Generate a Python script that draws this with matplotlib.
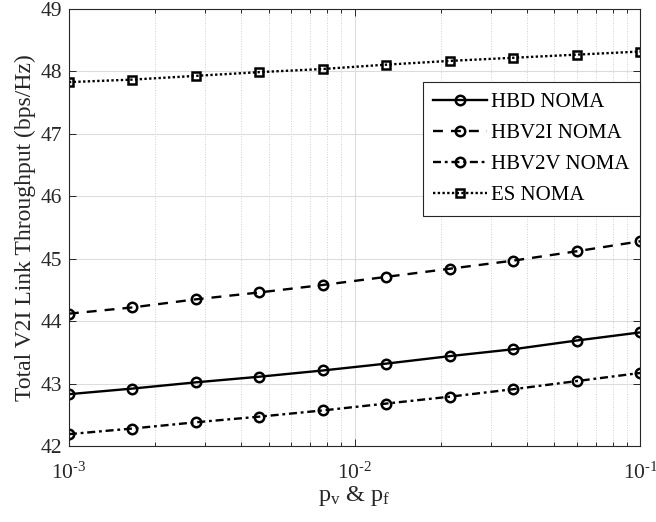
import numpy as np
import matplotlib
matplotlib.use('Agg')
import matplotlib.pyplot as plt
from matplotlib.ticker import FixedLocator, FixedFormatter

plt.rcParams['font.family'] = ['Liberation Serif', 'DejaVu Serif']
plt.rcParams['mathtext.fontset'] = 'stix'

# probability of vehicle / fault (log-spaced sweep)
p = [1e-3, 1.668e-3, 2.783e-3, 4.642e-3, 7.743e-3,
     1.292e-2, 2.154e-2, 3.594e-2, 5.995e-2, 1e-1]

hbd_noma = [42.83, 42.92, 43.02, 43.11, 43.21, 43.32, 43.44, 43.55, 43.69, 43.82]
hbv2i_noma = [44.12, 44.22, 44.35, 44.46, 44.58, 44.71, 44.84, 44.97, 45.12, 45.28]
hbv2v_noma = [42.19, 42.28, 42.38, 42.47, 42.57, 42.68, 42.79, 42.91, 43.04, 43.17]
es_noma = [47.83, 47.87, 47.93, 47.99, 48.04, 48.11, 48.17, 48.22, 48.27, 48.32]

labels = ['HBD NOMA', 'HBV2I NOMA', 'HBV2V NOMA', 'ES NOMA']
xticks = [1e-3, 1e-2, 1e-1]
xtick_labels = [r'$\mathregular{10^{\text{-}3}}$', r'$\mathregular{10^{\text{-}2}}$',
                r'$\mathregular{10^{\text{-}1}}$']

fig = plt.figure(figsize=(6.56, 5.22), dpi=100)
ax = fig.add_axes([0.105, 0.1456, 0.871, 0.837])

style = dict(color='black', linewidth=1.7, markersize=6.8,
             markerfacecolor='none', markeredgewidth=1.8)
ax.plot(p, hbd_noma, '-', marker='o', label=labels[0], **style)
ax.plot(p, hbv2i_noma, '--', marker='o', label=labels[1], dashes=(4.2, 3.4), **style)
ax.plot(p, hbv2v_noma, '-.', marker='o', label=labels[2], dashes=(3.4, 1.6, 1.2, 1.6), **style)
ax.plot(p, es_noma, ':', marker='s', label=labels[3], dashes=(1, 1),
        **dict(style, markersize=6.2))

ax.set_xscale('log')
ax.set_xlim(1e-3, 1e-1)
ax.set_ylim(42, 49)
ax.set_yticks(range(42, 50))
ax.xaxis.set_major_locator(FixedLocator(xticks))
ax.xaxis.set_major_formatter(FixedFormatter(xtick_labels))

ax.grid(True, which='major', color='#dcdcdc', linewidth=0.8, linestyle='-')
ax.grid(True, which='minor', axis='x', color='#cfcfcf', linewidth=0.7, linestyle=':')
ax.set_axisbelow(True)

ax.tick_params(which='both', direction='in', top=True, right=True,
               labelsize=15.5, colors='#262626', width=0.7)
ax.tick_params(which='major', length=5)
ax.tick_params(which='minor', length=3)
ax.tick_params(axis='x', which='major', pad=12)
ax.tick_params(axis='y', which='major', pad=5)
for s in ax.spines.values():
    s.set_color('#262626')
    s.set_linewidth(0.8)

ax.set_xlabel(r'$\mathregular{p_v}$ & $\mathregular{p_f}$', fontsize=17.5, color='#262626',
              labelpad=0)
ax.set_ylabel('Total V2I Link Throughput (bps/Hz)', fontsize=17, color='#262626', labelpad=3)

leg = ax.legend(loc='upper right', bbox_to_anchor=(1.0, 0.833), fontsize=15,
                fancybox=False, framealpha=1, edgecolor='#262626',
                handlelength=2.6, labelspacing=0.55, borderaxespad=0,
                handletextpad=0.2, borderpad=0.5)
leg.get_frame().set_linewidth(0.8)

fig.savefig('out.png', dpi=100)
